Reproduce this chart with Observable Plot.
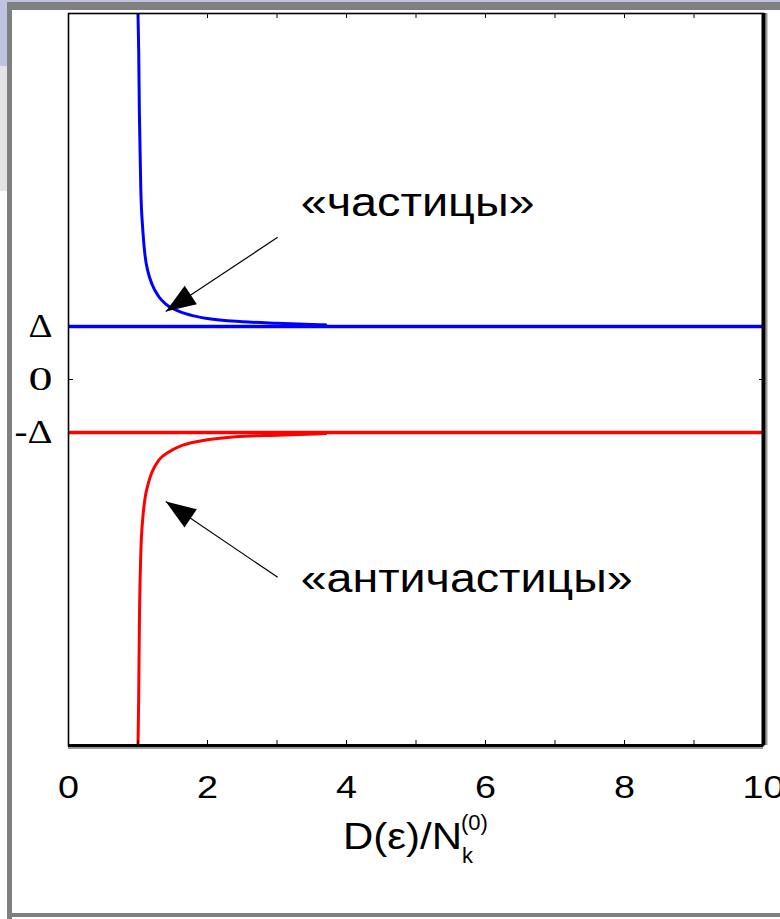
<!DOCTYPE html>
<html><head><meta charset="utf-8">
<script src="https://cdn.jsdelivr.net/npm/d3@7"></script>
<script src="https://cdn.jsdelivr.net/npm/@observablehq/plot@0.6"></script>
<style>
body{margin:0;background:#fff;}
#chart{position:relative;width:780px;height:919px;overflow:hidden;}
</style>
</head><body><div id="chart"></div>
<script>
// ---- data (energies in units of Δ) ----
const particleX = [1.0, 1.01, 1.02, 1.04, 1.07, 1.1, 1.15, 1.2, 1.3, 1.4, 1.6, 1.8, 2.0, 2.5, 3.0, 3.7];
const particleY = [6.9, 6.2, 5.0, 3.6, 2.8, 2.35, 2.0, 1.8, 1.56, 1.42, 1.28, 1.2, 1.15, 1.09, 1.06, 1.03];
const antiX = [1.0, 1.01, 1.02, 1.04, 1.07, 1.1, 1.15, 1.2, 1.3, 1.45, 1.6, 1.9, 2.4, 3.0, 3.7];
const antiY = [-6.9, -6.0, -4.6, -3.3, -2.6, -2.25, -1.95, -1.75, -1.52, -1.36, -1.26, -1.16, -1.08, -1.05, -1.02];
const gapLevels = [1, -1];
const gapColors = ["#0000ff", "#ff0000"];
const xTickValues = [0, 2, 4, 6, 8, 10];
const xMinorTicks = [0, 1, 2, 3, 4, 5, 6, 7, 8, 9, 10];
const yTickValues = [1, 0, -1];
const yTickLabels = ["Δ", "0", "-Δ"];
const annotationText = ["«частицы»", "«античастицы»"];
const annotationX = [3.34, 3.34];
const annotationY = [3.32, -3.77];
const arrowTailX = [3.01, 3.01];
const arrowTailY = [2.68, -3.73];
const arrowTipX = [1.40, 1.40];
const arrowTipY = [1.28, -2.30];

// ---- layout ----
const W = 780, H = 919, mL = 68, mR = 17, mT = 13, mB = 174;
const xDom = [0, 10], yDom = [-6.9, 6.9];
const kx = (W - mL - mR) / (xDom[1] - xDom[0]);
const ky = (H - mT - mB) / (yDom[1] - yDom[0]);
const SANS = "Liberation Sans, Arial, sans-serif";
const SERIF = "Liberation Serif, Times New Roman, serif";

const particles = particleX.map((x, i) => ({x, y: particleY[i]}));
const antis = antiX.map((x, i) => ({x, y: antiY[i]}));
const notes = annotationText.map((t, i) => ({t, x: annotationX[i], y: annotationY[i]}));

const headLen = 30, headW = 22;
const arrows = arrowTailX.map((tx, i) => {
  const dxp = (arrowTipX[i] - tx) * kx, dyp = -(arrowTipY[i] - arrowTailY[i]) * ky;
  const len = Math.hypot(dxp, dyp), ux = dxp / len, uy = dyp / len;
  const off = 2 * headLen / 3;
  return {
    x1: tx, y1: arrowTailY[i], x2: arrowTipX[i], y2: arrowTipY[i],
    cx: arrowTipX[i] - ux * off / kx, cy: arrowTipY[i] + uy * off / ky,
    angle: Math.atan2(ux, -uy) * 180 / Math.PI
  };
});
const arrowHead = {
  draw(ctx) {
    ctx.moveTo(0, -2 * headLen / 3);
    ctx.lineTo(headW / 2, headLen / 3);
    ctx.lineTo(-headW / 2, headLen / 3);
    ctx.closePath();
  }
};

const plot = Plot.plot({
  width: W, height: H,
  marginLeft: mL, marginRight: mR, marginTop: mT, marginBottom: mB,
  x: {domain: xDom, label: null},
  y: {domain: yDom, label: null},
  style: {background: "white", overflow: "visible"},
  marks: [
    Plot.ruleY(gapLevels, {y: d => d, stroke: (d, i) => gapColors[i], strokeWidth: 3.5}),
    Plot.line(particles, {x: "x", y: "y", stroke: "#0000ff", strokeWidth: 3, curve: "monotone-x", clip: true}),
    Plot.line(antis, {x: "x", y: "y", stroke: "#ff0000", strokeWidth: 3, curve: "monotone-x", clip: true}),
    Plot.link(arrows, {x1: "x1", y1: "y1", x2: "x2", y2: "y2", stroke: "black", strokeWidth: 1.2}),
    Plot.dot(arrows, {x: "cx", y: "cy", symbol: arrowHead, r: 10, rotate: "angle", fill: "black", stroke: "none"}),
    Plot.text(notes, {x: "x", y: "y", text: "t", textAnchor: "start", fontSize: 40, fontFamily: SANS, fill: "black"}),
    Plot.frame({stroke: "black", strokeWidth: 1.6}),
    Plot.ruleX([xDom[1]], {stroke: "#999", strokeWidth: 2, dx: 3}),
    Plot.ruleX([xDom[1]], {stroke: "black", strokeWidth: 4}),
    Plot.ruleY([yDom[0]], {stroke: "#999", strokeWidth: 2, dy: 2.5}),
    Plot.ruleY([yDom[0]], {stroke: "black", strokeWidth: 3}),
    Plot.axisX({anchor: "bottom", ticks: xMinorTicks, tickSize: -5, tickFormat: () => "", label: null}),
    Plot.axisX({anchor: "top", ticks: xMinorTicks, tickSize: -4, tickFormat: () => "", label: null}),
    Plot.axisX({anchor: "bottom", ticks: xTickValues, tickSize: 0, tickPadding: 30, label: null,
      fontSize: 32, fontFamily: SANS, fill: "black"}),
    Plot.axisY({anchor: "left", ticks: [0], tickSize: -5, tickFormat: () => "", label: null}),
    Plot.axisY({anchor: "right", ticks: [0], tickSize: -5, tickFormat: () => "", label: null}),
    Plot.axisY({anchor: "left", ticks: yTickValues, tickSize: 0, tickPadding: 16, label: null,
      tickFormat: d => yTickLabels[yTickValues.indexOf(d)],
      fontSize: 34, fontFamily: SERIF, fill: "black"})
  ]
});

const svg = d3.select(plot);

// horizontally stretched lettering, as in the slide screenshot
svg.selectAll('g[aria-label="text"] text').each(function () {
  const t = this.textContent;
  const target = t.length > 10 ? 332 : 234;
  this.setAttribute("textLength", target);
  this.setAttribute("lengthAdjust", "spacingAndGlyphs");
});
svg.selectAll('g[aria-label="x-axis tick label"] text').each(function () {
  const n = this.textContent.length;
  if (n) { this.setAttribute("textLength", 21 * n); this.setAttribute("lengthAdjust", "spacingAndGlyphs"); }
});
svg.selectAll('g[aria-label="y-axis tick label"] text').each(function () {
  const n = this.textContent.length;
  if (n) { this.setAttribute("textLength", n > 1 ? 38 : 24); this.setAttribute("lengthAdjust", "spacingAndGlyphs"); }
});

// slide-screenshot border decoration
const deco = svg.insert("g", ":first-child");
deco.append("rect").attr("x", 0).attr("y", 0).attr("width", W).attr("height", H).attr("fill", "white");
deco.append("rect").attr("x", 0).attr("y", 0).attr("width", 7).attr("height", 66).attr("fill", "#bfc3e0");
deco.append("rect").attr("x", 0).attr("y", 0).attr("width", W).attr("height", 2).attr("fill", "#bfc3e0");
deco.append("rect").attr("x", 0).attr("y", 66).attr("width", 7).attr("height", 125).attr("fill", "#e4e4e4");
deco.append("rect").attr("x", 7).attr("y", 2).attr("width", W - 7).attr("height", 8).attr("fill", "#808080");
deco.append("rect").attr("x", 7).attr("y", 2).attr("width", 5).attr("height", H - 2).attr("fill", "#808080");
deco.append("rect").attr("x", 7).attr("y", 913).attr("width", W - 7).attr("height", 4).attr("fill", "#808080");

// axis title with sub/superscripts
const title = svg.append("text")
  .attr("x", 343).attr("y", 849)
  .attr("text-anchor", "start")
  .attr("font-family", SANS)
  .attr("font-size", 36).attr("fill", "black");
title.append("tspan").attr("textLength", 119).attr("lengthAdjust", "spacingAndGlyphs").text("D(ε)/N");
title.append("tspan").attr("font-size", 22).attr("dy", 14).text("k");
title.append("tspan").attr("font-size", 22).attr("dx", -12).attr("dy", -33).text("(0)");

document.getElementById("chart").append(plot);
</script>
</body></html>
